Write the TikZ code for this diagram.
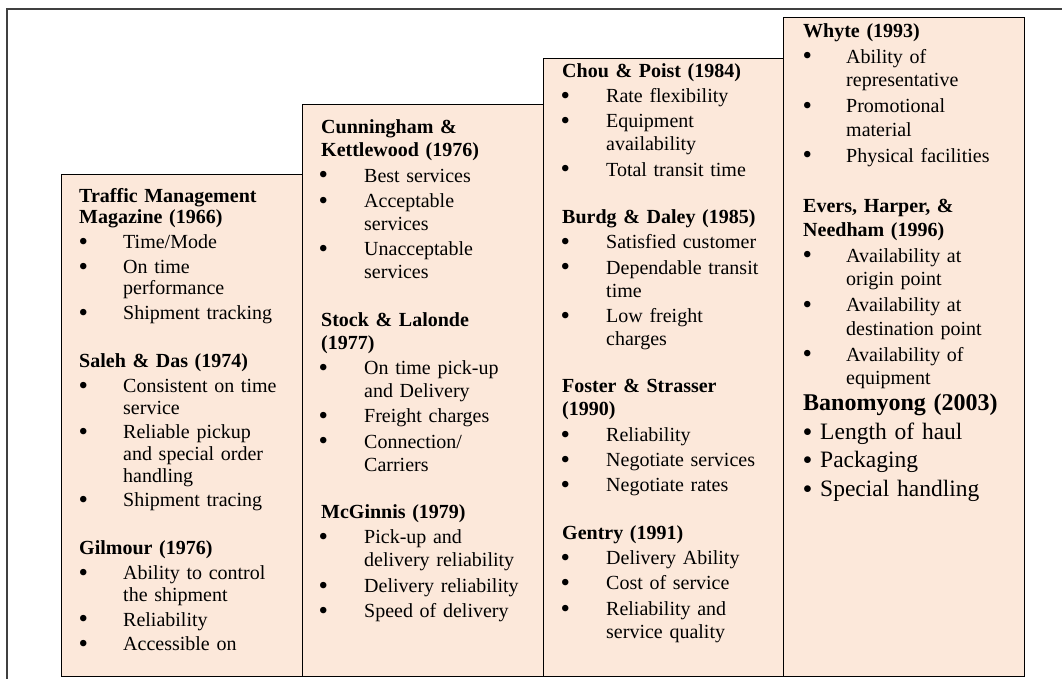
\documentclass[tikz,border=0pt]{standalone}
\usepackage{fontspec}
\usepackage{graphicx}
\setmainfont{Liberation Serif}
\definecolor{peach}{HTML}{FCE8DA}
% heading, bulleted item and continuation line inside a stage box
\newcommand\DotScale{1.35}
\newcommand\bigdot{\raisebox{-0.09em}{\scalebox{\DotScale}{\textbullet}}}
\newcommand\hd[1]{\hspace*{\HdOff}\textbf{#1}}
\newcommand\bi[1]{\makebox[\TxOff][l]{\hspace*{\BuOff}\bigdot}#1}
\newcommand\ct[1]{\hspace*{\TxOff}#1}
\newcommand\firstline{\noindent\rule{0pt}{16pt}}
\begin{document}
\begin{tikzpicture}[x=1pt,y=-1pt,
  stage/.style={draw=black, line width=1.3pt, fill=peach, anchor=north west,
    inner sep=0pt, minimum width=241pt},
  txt/.style={anchor=north west, inner sep=0pt, text width=260pt, align=left},
  frame/.style={draw=black!75, line width=1.8pt}]
\useasboundingbox (0,0) rectangle (1062,679);

% open outer frame (top and left sides)
\coordinate (fTop) at (1062,9);
\coordinate (fCorner) at (7,9);
\coordinate (fBot) at (7,679);
\draw[frame] (fTop) -- (fCorner) -- (fBot);

% the four ascending stages
\node[stage, minimum height=502pt] (s1) at (61,174) {};
\node[stage, minimum height=572pt] (s2) at (302,104) {};
\node[stage, minimum height=618pt] (s3) at (543,58) {};
\node[stage, minimum height=659pt] (s4) at (783,17) {};

% stage 1
\def\HdOff{18pt}\def\BuOff{17.3pt}\def\TxOff{62pt}
\def\ItmSkip{3pt}\def\GrpSkip{26.3pt}
\node[txt, font=\fontsize{20}{21.7}\selectfont] (t1) at (61,186) {%
\firstline\hd{Traffic Management}\\
\hd{Magazine (1966)}\\[\ItmSkip]
\bi{Time/Mode}\\[\ItmSkip]
\bi{On time}\\
\ct{performance}\\[\ItmSkip]
\bi{Shipment tracking}\\[\GrpSkip]
\hd{Saleh \& Das (1974)}\\[\ItmSkip]
\bi{Consistent on time}\\
\ct{service}\\[\ItmSkip]
\bi{Reliable pickup}\\
\ct{and special order}\\
\ct{handling}\\[\ItmSkip]
\bi{Shipment tracing}\\[\GrpSkip]
\hd{Gilmour (1976)}\\[\ItmSkip]
\bi{Ability to control}\\
\ct{the shipment}\\[\ItmSkip]
\bi{Reliability}\\[\ItmSkip]
\bi{Accessible on}};

% stage 2
\def\HdOff{19pt}\def\BuOff{16.3pt}\def\TxOff{62pt}
\def\ItmSkip{2.3pt}\def\GrpSkip{24.5pt}
\node[txt, font=\fontsize{20}{23}\selectfont] (t2) at (302,117.6) {%
\firstline\hd{Cunningham \&}\\
\hd{Kettlewood (1976)}\\[\ItmSkip]
\bi{Best services}\\[\ItmSkip]
\bi{Acceptable}\\
\ct{services}\\[\ItmSkip]
\bi{Unacceptable}\\
\ct{services}\\[\GrpSkip]
\hd{Stock \& Lalonde}\\
\hd{(1977)}\\[\ItmSkip]
\bi{On time pick-up}\\
\ct{and Delivery}\\[\ItmSkip]
\bi{Freight charges}\\[\ItmSkip]
\bi{Connection/}\\
\ct{Carriers}\\[\GrpSkip]
\hd{McGinnis (1979)}\\[\ItmSkip]
\bi{Pick-up and}\\
\ct{delivery reliability}\\[\ItmSkip]
\bi{Delivery reliability}\\[\ItmSkip]
\bi{Speed of delivery}};

% stage 3
\def\HdOff{19pt}\def\BuOff{17.3pt}\def\TxOff{63pt}
\def\ItmSkip{2.3pt}\def\GrpSkip{24.5pt}
\node[txt, font=\fontsize{20}{23}\selectfont] (t3) at (543,61) {%
\firstline\hd{Chou \& Poist (1984)}\\[\ItmSkip]
\bi{Rate flexibility}\\[\ItmSkip]
\bi{Equipment}\\
\ct{availability}\\[\ItmSkip]
\bi{Total transit time}\\[\GrpSkip]
\hd{Burdg \& Daley (1985)}\\[\ItmSkip]
\bi{Satisfied customer}\\[\ItmSkip]
\bi{Dependable transit}\\
\ct{time}\\[\ItmSkip]
\bi{Low freight}\\
\ct{charges}\\[\GrpSkip]
\hd{Foster \& Strasser}\\
\hd{(1990)}\\[\ItmSkip]
\bi{Reliability}\\[\ItmSkip]
\bi{Negotiate services}\\[\ItmSkip]
\bi{Negotiate rates}\\[\GrpSkip]
\hd{Gentry (1991)}\\[\ItmSkip]
\bi{Delivery Ability}\\[\ItmSkip]
\bi{Cost of service}\\[\ItmSkip]
\bi{Reliability and}\\
\ct{service quality}};

% stage 4
\def\HdOff{20pt}\def\BuOff{19.3pt}\def\TxOff{63pt}
\def\ItmSkip{2.5pt}\def\GrpSkip{27pt}
\node[txt, font=\fontsize{20}{23.5}\selectfont] (t4) at (783,21) {%
\firstline\hd{Whyte (1993)}\\[\ItmSkip]
\bi{Ability of}\\
\ct{representative}\\[\ItmSkip]
\bi{Promotional}\\
\ct{material}\\[\ItmSkip]
\bi{Physical facilities}\\[\GrpSkip]
\hd{Evers, Harper, \&}\\
\hd{Needham (1996)}\\[\ItmSkip]
\bi{Availability at}\\
\ct{origin point}\\[\ItmSkip]
\bi{Availability at}\\
\ct{destination point}\\[\ItmSkip]
\bi{Availability of}\\
\ct{equipment}};

% larger closing group in stage 4
\def\HdOff{20pt}\def\BuOff{19.5pt}\def\TxOff{37pt}
\renewcommand\DotScale{1.2}
\node[txt, font=\fontsize{23.5}{28.5}\selectfont] (t5) at (783,394) {%
\firstline\hd{\fontsize{24}{28.5}\selectfont Banomyong (2003)}\\
\bi{Length of haul}\\
\bi{Packaging}\\
\bi{Special handling}};
\end{tikzpicture}
\end{document}
